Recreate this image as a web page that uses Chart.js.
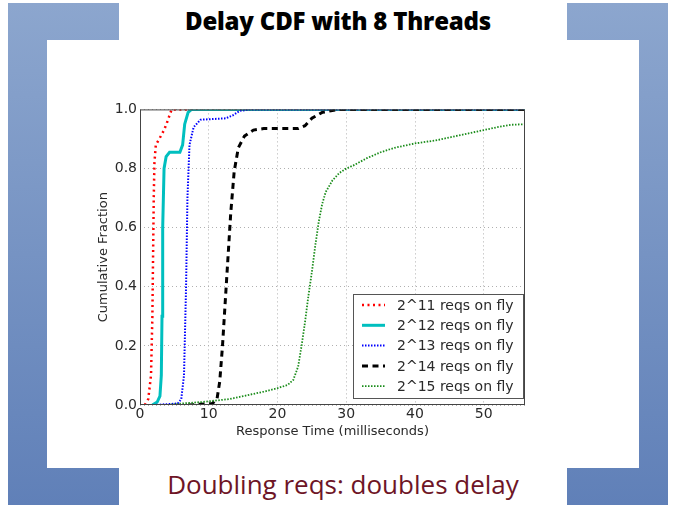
<!DOCTYPE html>
<html>
<head>
<meta charset="utf-8">
<script src="https://cdn.jsdelivr.net/npm/chart.js@4"></script>
<style>
  body { margin: 0; background: #fff; }
  #slide { position: relative; width: 676px; height: 506px; overflow: hidden; background: #fff; }
  .bracket { position: absolute; top: 3px; height: 502px;
    background: linear-gradient(#8ca6ce, #6080b8); }
  #leftBracket { left: 8px; width: 111px;
    clip-path: polygon(0 0, 111px 0, 111px 37px, 39px 37px, 39px 465px, 111px 465px, 111px 502px, 0 502px); }
  #rightBracket { left: 567px; width: 101px;
    clip-path: polygon(0 0, 101px 0, 101px 502px, 0 502px, 0 465px, 72px 465px, 72px 37px, 0 37px); }
  #title { position: absolute; top: 4px; left: 0; width: 676px; text-align: center;
    font: 800 24px "Open Sans", sans-serif; color: #000; letter-spacing: -0.2px; }
  #subtitle { position: absolute; top: 466px; left: 0; width: 686px; text-align: center;
    font: 26px "Open Sans", sans-serif; color: #6e1526; }
  #chartBox { position: absolute; left: 80px; top: 98px; width: 455px; height: 345px; }
</style>
</head>
<body>
<div id="slide">
  <div class="bracket" id="leftBracket"></div>
  <div class="bracket" id="rightBracket"></div>
  <div id="title">Delay CDF with 8 Threads</div>
  <div id="chartBox"><canvas id="cdfChart" width="455" height="345"></canvas></div>
  <div id="subtitle">Doubling reqs: doubles delay</div>
</div>
<script>
const seriesLabels = ['2^11 reqs on fly', '2^12 reqs on fly', '2^13 reqs on fly', '2^14 reqs on fly', '2^15 reqs on fly'];

// response time (ms) / cumulative fraction
const x2e11 = [0.7, 1.2, 1.6, 1.8, 1.9, 2.0, 2.1, 2.3, 2.8, 3.5, 4.0, 4.6, 56];
const y2e11 = [0, 0.02, 0.1, 0.3, 0.5, 0.7, 0.82, 0.88, 0.9, 0.93, 0.96, 1.0, 1.0];

const x2e12 = [1.8, 2.5, 2.9, 3.1, 3.2, 3.3, 3.5, 3.8, 4.3, 5.8, 6.2, 6.5, 7.0, 7.5, 56];
const y2e12 = [0, 0.01, 0.03, 0.1, 0.3, 0.6, 0.8, 0.84, 0.855, 0.855, 0.88, 0.95, 0.99, 1.0, 1.0];

const x2e13 = [2.0, 5.5, 6.0, 6.4, 6.7, 6.9, 7.2, 7.8, 8.8, 12.5, 13.5, 14.5, 16, 56];
const y2e13 = [0, 0.005, 0.02, 0.1, 0.4, 0.7, 0.88, 0.94, 0.965, 0.97, 0.98, 0.995, 1.0, 1.0];

const x2e14 = [7, 10.5, 11.2, 11.6, 12.0, 12.4, 12.8, 13.2, 13.7, 14.3, 15.2, 16.5, 18, 23, 24, 25, 26.5, 29, 56];
const y2e14 = [0, 0.005, 0.02, 0.08, 0.2, 0.35, 0.5, 0.65, 0.79, 0.87, 0.91, 0.93, 0.935, 0.935, 0.945, 0.97, 0.99, 1.0, 1.0];

const x2e15 = [4, 6, 9, 13, 16, 18, 20, 21.5, 22.3, 23, 23.5, 24, 24.5, 25, 25.5, 26, 26.5, 27, 28, 29, 30, 31, 33, 35, 37, 40, 43, 46, 49, 52, 54, 56];
const y2e15 = [0, 0.005, 0.01, 0.02, 0.035, 0.045, 0.057, 0.068, 0.085, 0.13, 0.2, 0.28, 0.37, 0.45, 0.54, 0.62, 0.68, 0.72, 0.76, 0.785, 0.8, 0.81, 0.835, 0.855, 0.87, 0.885, 0.895, 0.91, 0.925, 0.94, 0.948, 0.95];

const xTicks = [0, 10, 20, 30, 40, 50];
const yTicks = [0, 0.2, 0.4, 0.6, 0.8, 1.0];

const xs = [x2e11, x2e12, x2e13, x2e14, x2e15];
const ys = [y2e11, y2e12, y2e13, y2e14, y2e15];
const colors = ['#ff0000', '#00bfbf', '#0000ff', '#000000', '#1a8c1a'];
const widths = [2.5, 3, 2, 3, 1.8];
const dashes = [[2, 3.5], [], [1.5, 1.5], [6, 4.5], [1.5, 1.5]];

const datasets = seriesLabels.map((label, i) => ({
  label: label,
  data: xs[i].map((x, k) => ({ x: x, y: ys[i][k] })),
  borderColor: colors[i],
  borderWidth: widths[i],
  borderDash: dashes[i],
  pointRadius: 0,
  tension: 0,
  fill: false,
  order: seriesLabels.length - i
}));

// frame + legend in the lower right corner, like matplotlib
const frameAndLegend = {
  id: 'frameAndLegend',
  afterDatasetsDraw(chart) {
    const { ctx, chartArea } = chart;
    ctx.save();
    ctx.strokeStyle = '#444';
    ctx.lineWidth = 1;
    ctx.strokeRect(chartArea.left + 0.5, chartArea.top + 0.5, chartArea.right - chartArea.left - 1, chartArea.bottom - chartArea.top - 1);

    const w = 170, h = 104;
    const x0 = Math.round(chartArea.right - 2 - w), y0 = Math.round(chartArea.bottom - 7 - h);
    ctx.fillStyle = '#fff';
    ctx.fillRect(x0, y0, w, h);
    ctx.strokeStyle = '#555';
    ctx.strokeRect(x0 + 0.5, y0 + 0.5, w, h);
    chart.data.datasets.forEach((ds, i) => {
      const y = y0 + 11 + i * 20.3;
      ctx.setLineDash(ds.borderDash);
      ctx.strokeStyle = ds.borderColor;
      ctx.lineWidth = ds.borderWidth;
      ctx.beginPath();
      ctx.moveTo(x0 + 9, y);
      ctx.lineTo(x0 + 32, y);
      ctx.stroke();
      ctx.setLineDash([]);
      ctx.fillStyle = '#2a2a2a';
      ctx.font = '14px "DejaVu Sans"';
      ctx.textBaseline = 'middle';
      ctx.fillText(ds.label, x0 + 44, y + 1);
    });
    ctx.restore();
  }
};

new Chart(document.getElementById('cdfChart'), {
  type: 'line',
  data: { datasets: datasets },
  options: {
    responsive: false,
    animation: false,
    layout: { padding: { left: 14, top: 10, right: 10, bottom: 0 } },
    plugins: { legend: { display: false }, tooltip: { enabled: false } },
    scales: {
      x: {
        type: 'linear',
        min: 0,
        max: 56,
        afterBuildTicks: (scale) => { scale.ticks = xTicks.map(v => ({ value: v })); },
        afterFit: (scale) => { scale.height = 38; },
        ticks: { color: '#2a2a2a', font: { family: 'DejaVu Sans', size: 14 }, padding: 1, maxRotation: 0 },
        grid: { color: '#b0b0b0', tickLength: 0 },
        border: { display: false, dash: [1, 3] },
        title: { display: true, text: 'Response Time (milliseconds)', color: '#2a2a2a', font: { family: 'DejaVu Sans', size: 13 }, padding: { top: 0, bottom: 4 } }
      },
      y: {
        min: 0,
        max: 1,
        afterBuildTicks: (scale) => { scale.ticks = yTicks.map(v => ({ value: v })); },
        afterFit: (scale) => { scale.width = 46; },
        ticks: { color: '#2a2a2a', font: { family: 'DejaVu Sans', size: 14 }, padding: 3, callback: (v) => v.toFixed(1) },
        grid: { color: '#b0b0b0', tickLength: 0 },
        border: { display: false, dash: [1, 3] },
        title: { display: true, text: 'Cumulative Fraction', color: '#2a2a2a', font: { family: 'DejaVu Sans', size: 13 }, padding: { top: 2, bottom: 0 } }
      }
    }
  },
  plugins: [frameAndLegend]
});
</script>
</body>
</html>
